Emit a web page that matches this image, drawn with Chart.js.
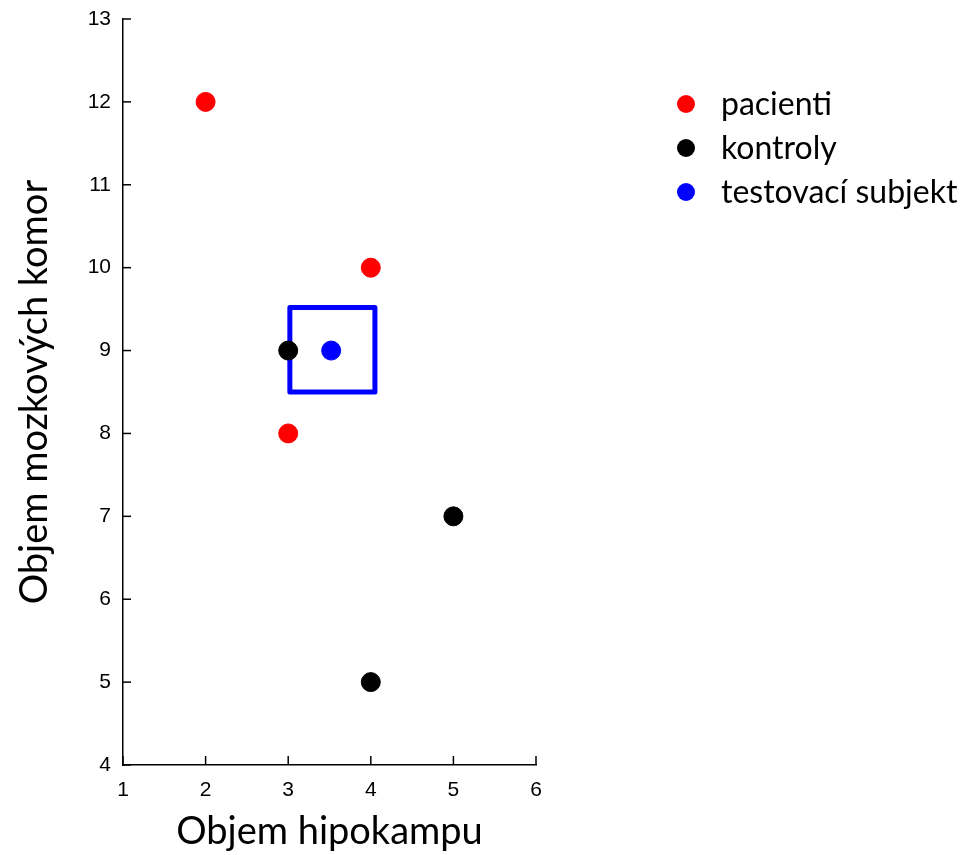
<!DOCTYPE html>
<html>
<head>
<meta charset="utf-8">
<script src="https://cdn.jsdelivr.net/npm/chart.js@4"></script>
<style>
  html, body { margin: 0; padding: 0; background: #fff; }
  #wrap { width: 971px; height: 855px; }
</style>
</head>
<body>
<div id="wrap"><canvas id="scatterChart"></canvas></div>
<script>
// data
const pacientiX = [2, 4, 3];
const pacientiY = [12, 10, 8];
const kontrolyX = [3, 5, 4];
const kontrolyY = [9, 7, 5];
const testX = [3.52];
const testY = [9];
// blue square around the test subject (corners, closed)
const boxX = [3.02, 4.05, 4.05, 3.02, 3.02];
const boxY = [9.52, 9.52, 8.5, 8.5, 9.52];
const xTicks = [1, 2, 3, 4, 5, 6];
const yTicks = [4, 5, 6, 7, 8, 9, 10, 11, 12, 13];
const seriesNames = ['pacienti', 'kontroly', 'testovací subjekt'];

const pts = (xs, ys) => xs.map((x, i) => ({ x: x, y: ys[i] }));

// ticks pointing into the plot + simple legend on the right
const innerTicks = {
  id: 'innerTicks',
  afterDraw(chart) {
    const c = chart.ctx, xs = chart.scales.x, ys = chart.scales.y;
    c.save();
    c.strokeStyle = '#000';
    c.lineWidth = 1.5;
    xTicks.forEach(v => {
      const px = xs.getPixelForValue(v);
      c.beginPath(); c.moveTo(px, ys.bottom); c.lineTo(px, ys.bottom - 9); c.stroke();
    });
    yTicks.forEach(v => {
      const py = ys.getPixelForValue(v);
      c.beginPath(); c.moveTo(xs.left, py); c.lineTo(xs.left + 8, py); c.stroke();
    });
    // legend
    c.font = '32px Lato, "Open Sans", sans-serif';
    c.textBaseline = 'middle';
    seriesNames.forEach((name, i) => {
      const ds = chart.data.datasets[i];
      const y = 104 + i * 44;
      c.fillStyle = ds.backgroundColor;
      c.beginPath(); c.arc(686, y, 9, 0, Math.PI * 2); c.fill();
      c.fillStyle = '#000';
      c.fillText(name, 721, y + 1);
    });
    c.restore();
  }
};

const tickFont = { family: '"Liberation Sans", Arial, sans-serif', size: 21 };

new Chart(document.getElementById('scatterChart'), {
  type: 'scatter',
  data: {
    datasets: [
      { label: seriesNames[0], data: pts(pacientiX, pacientiY), backgroundColor: '#ff0000', borderColor: '#ff0000', pointRadius: 9.5, pointHoverRadius: 9.5 },
      { label: seriesNames[1], data: pts(kontrolyX, kontrolyY), backgroundColor: '#000000', borderColor: '#000000', pointRadius: 9.5, pointHoverRadius: 9.5 },
      { label: seriesNames[2], data: pts(testX, testY), backgroundColor: '#0000ff', borderColor: '#0000ff', pointRadius: 9.5, pointHoverRadius: 9.5 },
      { label: 'box', data: pts(boxX, boxY), showLine: true, borderColor: '#0000ff', borderWidth: 5, pointRadius: 0, fill: false, borderJoinStyle: 'round', borderCapStyle: 'round', order: 5 }
    ]
  },
  plugins: [innerTicks],
  options: {
    responsive: true,
    maintainAspectRatio: false,
    animation: false,
    layout: { padding: { top: 19, right: 435, left: 0, bottom: 0 } },
    plugins: {
      legend: { display: false },
      tooltip: { enabled: false }
    },
    scales: {
      x: {
        type: 'linear', min: 1, max: 6,
        afterFit: s => { s.height = 90; s.paddingLeft = 0; s.paddingRight = 0; },
        afterBuildTicks: s => { s.ticks = xTicks.map(v => ({ value: v })); },
        grid: { drawOnChartArea: false, drawTicks: false },
        border: { display: true, color: '#000', width: 1.5 },
        ticks: { color: '#000', font: tickFont, padding: 13 },
        title: { display: true, text: 'Objem hipokampu', color: '#000', font: { family: 'Lato, "Open Sans", sans-serif', size: 38 }, padding: { top: 0, bottom: 0 } }
      },
      y: {
        type: 'linear', min: 4, max: 13,
        afterFit: s => { s.width = 123; s.paddingTop = 0; s.paddingBottom = 0; },
        afterBuildTicks: s => { s.ticks = yTicks.map(v => ({ value: v })); },
        grid: { drawOnChartArea: false, drawTicks: false },
        border: { display: true, color: '#000', width: 1.5 },
        ticks: { color: '#000', font: tickFont, padding: 12 },
        title: { display: true, text: 'Objem mozkových komor', color: '#000', font: { family: 'Lato, "Open Sans", sans-serif', size: 38 }, padding: { top: 12, bottom: 0 } }
      }
    }
  }
});
</script>
</body>
</html>
